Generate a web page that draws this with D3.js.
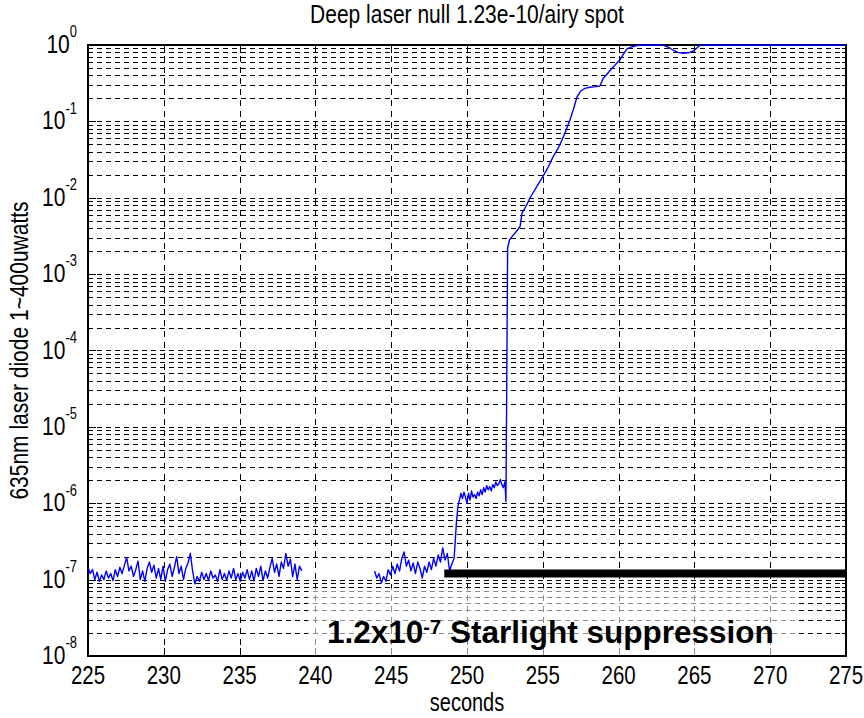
<!DOCTYPE html>
<html>
<head>
<meta charset="utf-8">
<script src="https://cdn.jsdelivr.net/npm/d3@7"></script>
<style>
  body { margin: 0; background: #fff; }
  svg { display: block; }
</style>
</head>
<body>
<svg id="chart" width="864" height="718"></svg>
<script>
// ---- data -------------------------------------------------------------
const xTicks = [225, 230, 235, 240, 245, 250, 255, 260, 265, 270, 275];
const yDecadeExponents = [-8, -7, -6, -5, -4, -3, -2, -1, 0];

// Noise floor before the gap, sampled every 0.15 s from 225 s (units of 1e-7)
const floorStart = 225.0, floorStep = 0.15;
const floorValues = [
  1.45, 1.2, 1.35, 1.0, 1.25, 0.95, 1.15, 1.0, 1.3, 1.05,
  1.2, 0.97, 1.35, 1.1, 1.45, 1.2, 1.55, 1.95, 1.3, 1.5,
  1.1, 1.35, 1.75, 1.0, 1.3, 0.95, 1.4, 1.7, 1.25, 1.55,
  1.05, 1.4, 1.0, 1.5, 0.95, 1.35, 1.6, 1.1, 1.45, 2.0,
  1.2, 1.5, 1.0, 1.4, 1.65, 2.2, 1.3, 0.88, 1.1, 0.95,
  1.25, 1.0, 1.2, 0.97, 1.3, 1.05, 1.15, 0.95, 1.35, 1.0,
  1.2, 0.98, 1.3, 1.05, 1.4, 1.0, 1.2, 0.95, 1.25, 1.05,
  1.35, 1.0, 1.3, 0.96, 1.4, 1.1, 1.5, 0.97, 1.3, 1.05,
  1.45, 1.9, 1.25, 1.6, 1.1, 1.7, 1.4, 2.2, 1.5, 1.85,
  1.1, 1.6, 1.0, 1.5, 1.3
];

// Second stretch of noise floor, from 243.9 s every 0.15 s (units of 1e-7)
const secondStart = 243.9, secondStep = 0.15;
const secondValues = [
  1.3, 1.05, 1.2, 0.9, 1.1, 0.95, 1.35, 1.15, 1.5, 1.2,
  1.6, 1.3, 1.9, 2.3, 1.5, 1.8, 1.3, 1.65, 1.2, 1.7,
  1.4, 1.05, 1.5, 1.25, 1.7, 1.35, 1.9, 1.5, 2.1, 1.7,
  2.6, 1.8, 2.2, 1.3, 1.6, 1.9
];

// Step up and plateau (units of 1e-7)
const plateauTimes = [
  249.30, 249.40, 249.50, 249.60, 249.70, 249.80, 249.90, 250.00, 250.10, 250.20,
  250.30, 250.40, 250.50, 250.60, 250.70, 250.80, 250.90, 251.00, 251.10, 251.20,
  251.30, 251.40, 251.50, 251.60, 251.70, 251.80, 251.90, 252.00, 252.10, 252.20,
  252.30, 252.40, 252.50, 252.57
];
const plateauValues = [
  5.5, 9.0, 11, 13.5, 11.5, 14, 12, 10, 13.5, 11,
  14.5, 12, 13, 11.5, 14, 12.5, 15, 13, 16, 14,
  17, 15, 16.5, 14.5, 17.5, 16, 19, 17, 18, 20.5,
  17.5, 16, 19, 10.5
];

// Leak after the null is released (absolute units)
const leakTimes = [
  252.68, 252.80, 252.97, 253.20, 253.50, 253.63, 253.90, 254.16, 254.60, 255.01,
  255.30, 255.67, 256.00, 256.27, 256.55, 256.79, 257.00, 257.26, 257.50, 257.78,
  258.10, 258.50, 258.77, 258.97, 259.30, 259.63, 260.09, 260.30, 260.55, 260.90,
  261.20, 261.60, 262.93, 263.30, 263.59, 263.90, 264.25, 264.60, 264.91, 265.20,
  265.38, 275.00
];
const leakValues = [
  2.2e-3, 2.8e-3, 3.1e-3, 3.5e-3, 4.2e-3, 6.3e-3, 7.8e-3, 1.0e-2, 1.4e-2, 1.9e-2,
  2.4e-2, 3.4e-2, 4.4e-2, 5.7e-2, 7.8e-2, 0.104, 0.14, 0.21, 0.25, 0.27,
  0.28, 0.285, 0.29, 0.36, 0.43, 0.51, 0.64, 0.75, 0.89, 0.95,
  0.98, 1.0, 1.0, 0.93, 0.86, 0.80, 0.78, 0.79, 0.83, 0.93,
  1.0, 1.0
];

const suppressionLevel = 1.2e-7;
const suppressionStart = 248.5;
const suppressionEnd = 275;

// ---- layout -----------------------------------------------------------
const plot = { left: 88, top: 45, right: 846, bottom: 656 };
const fontFamily = "'Liberation Sans', Arial, Helvetica, sans-serif";
const textStretch = 1.26;

const svg = d3.select('#chart');
const x = d3.scaleLinear().domain([225, 275]).range([plot.left, plot.right]);
const y = d3.scaleLog().domain([1e-8, 1]).range([plot.bottom, plot.top]);

const floorSeries = floorValues.map((v, i) => ({ t: floorStart + i * floorStep, v: v * 1e-7 }));
const upperSeries = []
  .concat(secondValues.map((v, i) => ({ t: secondStart + i * secondStep, v: v * 1e-7 })))
  .concat(plateauTimes.map((t, i) => ({ t, v: plateauValues[i] * 1e-7 })))
  .concat(leakTimes.map((t, i) => ({ t, v: leakValues[i] })));

// ---- grid -------------------------------------------------------------
const gridValues = [];
yDecadeExponents.forEach(e => {
  if (e === 0) return;
  for (let m = 1; m <= 9; m++) gridValues.push(m * Math.pow(10, e));
});
const grid = svg.append('g').attr('shape-rendering', 'crispEdges');
grid.selectAll('line.h').data(gridValues.filter(v => v > 1e-8)).join('line')
  .attr('class', 'h')
  .attr('x1', plot.left).attr('x2', plot.right)
  .attr('y1', d => Math.round(y(d)) + 0.5).attr('y2', d => Math.round(y(d)) + 0.5)
  .attr('stroke', '#000').attr('stroke-width', 1).attr('stroke-dasharray', '5,4');
grid.selectAll('line.v').data(xTicks.slice(1, -1)).join('line')
  .attr('class', 'v')
  .attr('x1', d => Math.round(x(d)) + 0.5).attr('x2', d => Math.round(x(d)) + 0.5)
  .attr('y1', plot.top).attr('y2', plot.bottom)
  .attr('stroke', '#000').attr('stroke-width', 1).attr('stroke-dasharray', '6,5');

// ---- ticks ------------------------------------------------------------
const ticks = svg.append('g').attr('stroke', '#000').attr('stroke-width', 1)
  .attr('shape-rendering', 'crispEdges');
xTicks.forEach(t => {
  const px = Math.round(x(t)) + 0.5;
  ticks.append('line').attr('x1', px).attr('x2', px).attr('y1', plot.bottom).attr('y2', plot.bottom - 8);
  ticks.append('line').attr('x1', px).attr('x2', px).attr('y1', plot.top).attr('y2', plot.top + 8);
});
gridValues.concat([1]).forEach(v => {
  const py = Math.round(y(v)) + 0.5;
  const major = Math.abs(Math.log10(v) - Math.round(Math.log10(v))) < 1e-9;
  const len = major ? 8 : 4;
  ticks.append('line').attr('x1', plot.left).attr('x2', plot.left + len).attr('y1', py).attr('y2', py);
  ticks.append('line').attr('x1', plot.right).attr('x2', plot.right - len).attr('y1', py).attr('y2', py);
});

// light panel behind the annotation text
svg.append('rect')
  .attr('x', 308).attr('y', 588).attr('width', 489).attr('height', 67)
  .attr('fill', '#fff').attr('fill-opacity', 0.55);

// ---- axes box ---------------------------------------------------------
svg.append('rect')
  .attr('x', plot.left).attr('y', plot.top)
  .attr('width', plot.right - plot.left).attr('height', plot.bottom - plot.top)
  .attr('fill', 'none').attr('stroke', '#000').attr('stroke-width', 2)
  .attr('shape-rendering', 'crispEdges');

// ---- data lines -------------------------------------------------------
svg.append('clipPath').attr('id', 'plotClip').append('rect')
  .attr('x', plot.left).attr('y', plot.top - 1)
  .attr('width', plot.right - plot.left).attr('height', plot.bottom - plot.top + 1);

const line = d3.line().x(d => x(d.t)).y(d => y(d.v));
const dataG = svg.append('g').attr('clip-path', 'url(#plotClip)');
[floorSeries, upperSeries].forEach(series => {
  dataG.append('path').datum(series)
    .attr('d', line)
    .attr('fill', 'none').attr('stroke', '#0000ff').attr('stroke-width', 1.4)
    .attr('stroke-linejoin', 'round');
});

// suppression level marker
svg.append('line')
  .attr('x1', x(suppressionStart)).attr('x2', x(suppressionEnd))
  .attr('y1', y(suppressionLevel)).attr('y2', y(suppressionLevel))
  .attr('stroke', '#000').attr('stroke-width', 8);

// ---- tick labels ------------------------------------------------------
const labels = svg.append('g').attr('font-family', fontFamily).attr('fill', '#000');
xTicks.forEach(t => {
  labels.append('text')
    .attr('transform', `translate(${x(t)},684) scale(1,${textStretch})`)
    .attr('text-anchor', 'middle').attr('font-size', 20.5)
    .text(t);
});
yDecadeExponents.forEach(e => {
  const txt = labels.append('text')
    .attr('transform', `translate(77,${y(Math.pow(10, e)) + 8}) scale(1,${textStretch})`)
    .attr('text-anchor', 'end').attr('font-size', 21);
  txt.append('tspan').text('10');
  txt.append('tspan').attr('dy', -12.5).attr('font-size', 13).text(String(e));
});

// ---- titles -----------------------------------------------------------
labels.append('text')
  .attr('transform', `translate(467,23) scale(1,${textStretch})`)
  .attr('text-anchor', 'middle').attr('font-size', 21)
  .text('Deep laser null 1.23e-10/airy spot');
labels.append('text')
  .attr('transform', `translate(467,711) scale(1,${textStretch})`)
  .attr('text-anchor', 'middle').attr('font-size', 20)
  .text('seconds');
labels.append('text')
  .attr('transform', `translate(28,${(plot.top + plot.bottom) / 2}) rotate(-90) scale(1,${textStretch})`)
  .attr('text-anchor', 'middle').attr('font-size', 21)
  .text('635nm laser diode 1~400uwatts');

// ---- annotation -------------------------------------------------------
const note = svg.append('text')
  .attr('x', 327).attr('y', 643)
  .attr('font-family', fontFamily).attr('font-weight', 'bold')
  .attr('font-size', 31.5).attr('fill', '#000');
note.append('tspan').text('1.2x10');
note.append('tspan').attr('dy', -9).attr('font-size', 20).text('-7');
note.append('tspan').attr('dy', 9).text(' Starlight suppression');
</script>
</body>
</html>
